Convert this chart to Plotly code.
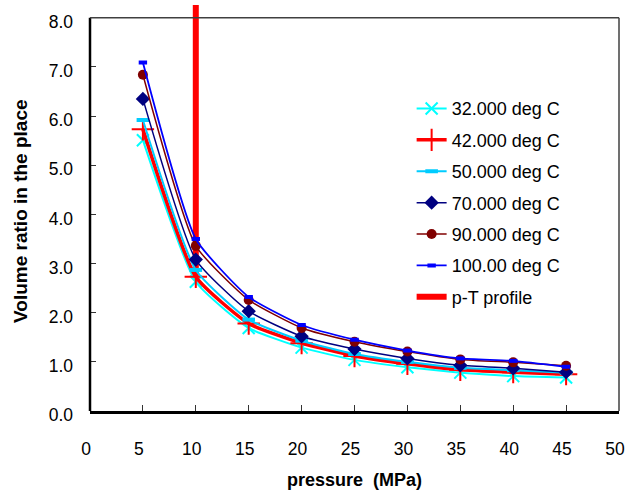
import plotly.graph_objects as go

# ---- data ----
pressure = [5, 10, 15, 20, 25, 30, 35, 40, 45]
v32 = [5.51, 2.63, 1.69, 1.29, 1.04, 0.89, 0.78, 0.71, 0.68]
v42 = [5.73, 2.73, 1.78, 1.38, 1.12, 0.96, 0.84, 0.79, 0.75]
v50 = [5.92, 2.87, 1.86, 1.43, 1.16, 1.00, 0.88, 0.83, 0.78]
v70 = [6.35, 3.08, 2.03, 1.52, 1.26, 1.07, 0.93, 0.87, 0.79]
v90 = [6.84, 3.36, 2.26, 1.69, 1.41, 1.21, 1.05, 0.99, 0.92]
v100 = [7.09, 3.50, 2.32, 1.75, 1.45, 1.23, 1.07, 1.02, 0.90]
pt_pressure = [10, 10]
pt_ratio = [2.73, 8.4]

series_names = ["32.000 deg C", "42.000 deg C", "50.000 deg C",
                "70.000 deg C", "90.000 deg C", "100.00 deg C"]
x_ticks = [0, 5, 10, 15, 20, 25, 30, 35, 40, 45, 50]
y_ticks = [0, 1, 2, 3, 4, 5, 6, 7, 8]

FONT = "Arial, Liberation Sans, sans-serif"

fig = go.Figure()

# p-T profile (drawn first, behind the curves)
fig.add_trace(go.Scatter(
    x=pt_pressure, y=pt_ratio, mode="lines", name="p-T profile",
    line=dict(color="#FF0000", width=6), legendrank=7, legendgroup="g7"))

styles = [
    (v32, dict(color="#00FFFF", width=2), dict(symbol="x-thin", size=12, line=dict(color="#00FFFF", width=2))),
    (v42, dict(color="#FF0000", width=3.5), dict(symbol="cross-thin", size=16, line=dict(color="#FF0000", width=2))),
    (v50, dict(color="#00CCFF", width=2), dict(symbol="line-ew", size=9, line=dict(color="#00CCFF", width=4))),
    (v70, dict(color="#000080", width=1.5), dict(symbol="diamond", size=11, color="#000080", line=dict(width=0))),
    (v90, dict(color="#800000", width=1.5), dict(symbol="circle", size=10, color="#800000", line=dict(width=0))),
    (v100, dict(color="#0000FF", width=1.8), dict(symbol="line-ew", size=6, line=dict(color="#0000FF", width=4))),
]
for i, ((vals, ln, mk), name) in enumerate(zip(styles, series_names)):
    fig.add_trace(go.Scatter(
        x=pressure, y=vals, mode="lines+markers", name=name,
        line=dict(shape="spline", smoothing=0.5, **ln), marker=mk,
        legendrank=i + 1, legendgroup="g%d" % i))

# frame: left, top, right
fig.add_shape(type="line", xref="paper", x0=0, x1=0, yref="y", y0=0, y1=8,
              line=dict(color="black", width=2.5))
fig.add_shape(type="line", xref="paper", x0=0, x1=1, yref="y", y0=8, y1=8,
              line=dict(color="#404040", width=1.5))
fig.add_shape(type="line", xref="paper", x0=1, x1=1, yref="y", y0=0, y1=8,
              line=dict(color="#404040", width=1.5))

fig.add_annotation(text="<b>Volume ratio in the place</b>", textangle=-90,
                   xref="paper", x=0, xanchor="center", xshift=-69,
                   yref="y", y=4.05, yanchor="middle", showarrow=False,
                   font=dict(family=FONT, size=19, color="black"))

fig.update_layout(
    width=630, height=492,
    margin=dict(l=90, r=9, t=5, b=76),
    paper_bgcolor="white", plot_bgcolor="white",
    font=dict(family=FONT, color="black"),
    showlegend=True,
    legend=dict(x=0.608, xanchor="left", y=0.79, yanchor="top",
                font=dict(family=FONT, size=18, color="black"),
                bgcolor="rgba(0,0,0,0)", tracegroupgap=5,
                traceorder="grouped"),
    xaxis=dict(range=[0, 50], tickvals=x_ticks, ticks="inside", ticklen=6,
               tickwidth=1, tickcolor="#333333", showline=True,
               linecolor="black", linewidth=2.5, showgrid=False, zeroline=False,
               tickfont=dict(family=FONT, size=17.5, color="black"),
               ticklabelstandoff=20, ticklabelshift=-4,
               ticklabeloverflow="allow",
               title=dict(text="<b>pressure  (MPa)</b>", standoff=16,
                          font=dict(family=FONT, size=18, color="black"))),
    yaxis=dict(range=[0, 8.26], tickvals=y_ticks,
               ticktext=["%.1f" % t for t in y_ticks], ticks="inside",
               ticklen=6, tickwidth=1, tickcolor="#333333", showline=False,
               showgrid=False, zeroline=False, ticklabelstandoff=16,
               ticklabelshift=4, ticklabeloverflow="allow",
               tickfont=dict(family=FONT, size=17.5, color="black")),
)

fig.write_html("out.html")
